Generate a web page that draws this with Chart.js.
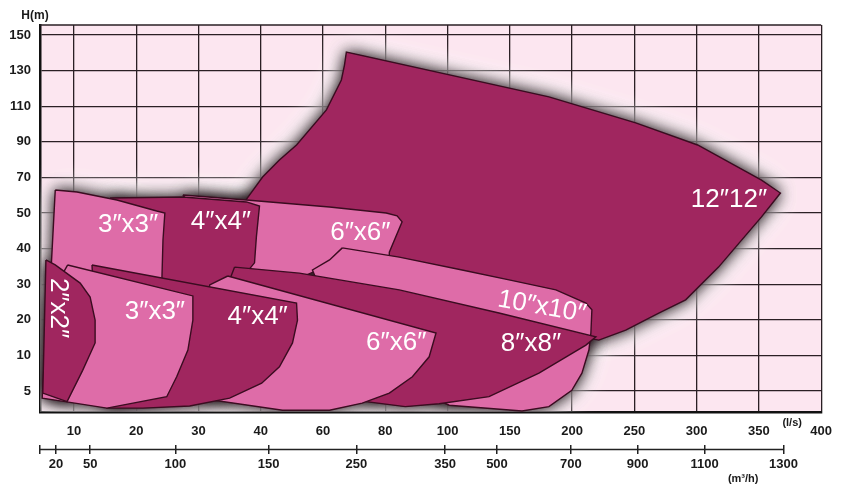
<!DOCTYPE html>
<html>
<head>
<meta charset="utf-8">
<script src="https://cdn.jsdelivr.net/npm/chart.js@4.4.1/dist/chart.umd.min.js"></script>
<style>
  html, body { margin: 0; padding: 0; background: #fff; }
</style>
</head>
<body>
<canvas id="chart" width="844" height="485"></canvas>
<script>
// axis ticks: every tick sits one grid step from the next, so the scales are piecewise
const flowTicks = [10, 20, 30, 40, 60, 80, 100, 150, 200, 250, 300, 350, 400]; // l/s
const headTicks = [5, 10, 20, 30, 40, 50, 70, 90, 110, 130, 150];              // m
const flowRange = [4.55, 400];
const headRange = [2.05, 155.6];

// second flow axis in m3/h, with the l/s value each tick sits at
const m3hLabels = ['', '20', '50', '100', '150', '250', '350', '500', '700', '900', '1100', '1300'];
const m3hAtFlow = [4.55, 7.1, 12.6, 26.3, 42.5, 70.7, 99.2, 139.7, 199.0, 252.7, 306.4, 369.7];

// pump ranges as outlines of [flow l/s, head m], listed back to front
const size12 = [[37.4, 56.2], [40.6, 70.2], [46.0, 79.8], [51.5, 88.2], [61.1, 107.9], [65.9, 124.7],
  [66.9, 133.1], [67.5, 140.4], [181.4, 115.2], [251.1, 100.6], [300.8, 88.2], [352.1, 68.5],
  [367.3, 61.2], [352.1, 48.9], [331.3, 40.4], [317.6, 34.8], [291.2, 25.6], [269.6, 21.9],
  [243.1, 17.1], [221.5, 14.3], [189.4, 16.3], [101.3, 25.6], [68.5, 35.4], [39.8, 43.8]];
const upper6 = [[27.5, 60.1], [37.7, 57.3], [62.1, 53.4], [80.3, 50.0], [83.8, 49.2], [85.4, 47.5],
  [81.3, 39.0], [81.3, 37.4], [62.1, 35.4], [52.4, 31.7], [36.6, 31.2]];
const upper4 = [[15.8, 58.4], [27.5, 59.0], [37.7, 56.2], [39.8, 53.9], [39.3, 43.3], [39.0, 36.0],
  [37.4, 32.6], [32.1, 29.2], [15.8, 29.2]];
const upper3 = [[7.0, 62.9], [10.5, 61.8], [16.9, 57.3], [23.3, 51.1], [24.6, 50.0], [24.3, 42.4],
  [24.1, 29.8], [6.2, 29.8]];
const lower10 = [[66.2, 40.2], [84.5, 37.6], [111.7, 34.0], [149.4, 31.2], [187.0, 28.4], [211.1, 24.7],
  [215.9, 22.8], [215.1, 16.3], [213.5, 11.5], [207.9, 7.5], [199.8, 5.1], [181.4, 2.8], [159.8, 2.2],
  [101.3, 3.0], [68.5, 9.4], [56.6, 34.0], [62.1, 36.8]];
const lower8 = [[35.8, 34.8], [52.4, 33.1], [84.5, 28.4], [141.3, 21.9], [219.1, 15.2], [211.1, 12.9],
  [173.4, 7.5], [133.3, 4.2], [97.3, 3.2], [86.4, 2.8], [73.9, 3.5], [62.1, 17.1], [35.0, 31.2]];
const lower6 = [[34.7, 32.3], [96.3, 16.3], [94.1, 9.8], [88.7, 7.0], [81.3, 4.7], [72.6, 3.3],
  [62.1, 2.3], [47.0, 2.3], [30.2, 4.0], [31.8, 29.8]];
const lower4 = [[12.9, 35.4], [51.5, 24.7], [51.8, 19.9], [50.2, 13.5], [46.0, 8.4], [40.3, 6.1],
  [35.0, 4.0], [28.6, 2.9], [21.1, 2.6], [15.3, 2.6], [13.4, 17.1]];
const lower3 = [[9.0, 35.4], [29.1, 26.7], [29.1, 19.9], [28.3, 11.5], [26.5, 7.0], [24.9, 4.2],
  [15.3, 2.6], [8.6, 3.5], [4.9, 4.0], [5.8, 25.6]];
const lower2 = [[5.5, 36.8], [7.0, 35.4], [11.0, 30.3], [12.6, 26.4], [13.4, 19.9], [13.4, 13.5],
  [11.4, 7.9], [8.9, 3.5], [5.0, 4.7]];

const outlines = [size12, upper6, upper4, upper3, lower10, lower8, lower6, lower4, lower3, lower2];
const pumpNames = ['12″12″', '6″x6″', '4″x4″', '3″x3″', '10″x10″', '8″x8″', '6″x6″', '4″x4″', '3″x3″', '2″x2″'];
const pumpTone = ['dark', 'light', 'dark', 'light', 'light', 'dark', 'light', 'dark', 'light', 'dark'];
const labelAt = [[326, 57.3], [72.0, 44.4], [33.6, 47.5], [18.7, 46.6], [175.8, 23.6], [167.0, 13.2],
  [83.5, 13.5], [39.5, 20.8], [23.0, 22.2], [7.4, 23.3]];

const toneColor = { dark: '#a0265f', light: '#de6ca8' };
const labelTurn = [0, 0, 0, 0, 10, 0, 0, 0, 0, 90];

// value -> grid position along a piecewise axis
function toIndex(v, ticks) {
  let k = 0;
  while (k < ticks.length - 2 && v > ticks[k + 1]) k++;
  return k + (v - ticks[k]) / (ticks[k + 1] - ticks[k]);
}

const datasets = outlines.map((pts, i) => ({
  label: pumpNames[i],
  data: pts.concat([pts[0]]).map(([q, h]) => ({ x: toIndex(q, flowTicks), y: toIndex(h, headTicks) })),
  showLine: true,
  fill: 'shape',
  backgroundColor: toneColor[pumpTone[i]],
  borderColor: '#3a0c20',
  borderWidth: 1.4,
  pointRadius: 0,
  tension: 0,
  order: outlines.length - i
}));

const gridColor = '#2a1f24';
const tickFont = { family: '"Liberation Sans", Arial, sans-serif', size: 13, weight: 'bold' };

const plotBg = {
  id: 'plotBg',
  beforeDraw(chart) {
    const { ctx, chartArea: a } = chart;
    ctx.save();
    ctx.fillStyle = '#fce6f0';
    ctx.fillRect(a.left, a.top, a.width, a.height);
    ctx.restore();
  }
};

// soft halo + dark shadow round every shape, painted before the shapes themselves
const shapeShadow = {
  id: 'shapeShadow',
  beforeDatasetsDraw(chart) {
    const { ctx, chartArea: a } = chart;
    ctx.save();
    ctx.beginPath();
    ctx.rect(a.left, a.top, a.width, a.height);
    ctx.clip();
    const metas = chart.getSortedVisibleDatasetMetas().slice().reverse();
    const trace = meta => {
      ctx.beginPath();
      meta.data.forEach((p, k) => (k ? ctx.lineTo(p.x, p.y) : ctx.moveTo(p.x, p.y)));
      ctx.closePath();
    };
    ctx.fillStyle = '#fff';
    ctx.shadowColor = 'rgba(255, 255, 255, 1)';
    ctx.shadowBlur = 30;
    metas.forEach(m => { trace(m); ctx.fill(); ctx.fill(); });
    ctx.fillStyle = '#555';
    ctx.shadowColor = 'rgba(20, 5, 12, 0.7)';
    ctx.shadowBlur = 16;
    metas.forEach(m => { trace(m); ctx.fill(); ctx.fill(); });
    ctx.restore();
  }
};

const decorations = {
  id: 'decorations',
  afterDatasetsDraw(chart) {
    const { ctx, chartArea: a, scales } = chart;
    ctx.save();
    ctx.strokeStyle = gridColor;
    ctx.lineWidth = 1.5;
    ctx.beginPath();
    ctx.moveTo(a.left, a.top);
    ctx.lineTo(a.right, a.top);
    ctx.stroke();

    ctx.fillStyle = '#fff';
    ctx.font = '26px "Liberation Sans", Arial, sans-serif';
    ctx.textAlign = 'center';
    ctx.textBaseline = 'middle';
    pumpNames.forEach((name, i) => {
      const x = scales.x.getPixelForValue(toIndex(labelAt[i][0], flowTicks));
      const y = scales.y.getPixelForValue(toIndex(labelAt[i][1], headTicks));
      ctx.save();
      ctx.translate(x, y);
      ctx.rotate(labelTurn[i] * Math.PI / 180);
      ctx.fillText(name, 0, 0);
      ctx.restore();
    });
    ctx.restore();
  },
  afterDraw(chart) {
    const { ctx, chartArea: a, scales } = chart;
    const x2 = scales.x2;
    ctx.save();
    // base line of the m3/h axis
    const y = x2.top + 4.5;
    ctx.strokeStyle = '#222';
    ctx.lineWidth = 1.5;
    ctx.beginPath();
    ctx.moveTo(x2.getPixelForValue(x2.ticks[0].value), y);
    ctx.lineTo(x2.getPixelForValue(x2.ticks[x2.ticks.length - 1].value), y);
    ctx.stroke();

    ctx.fillStyle = '#1a1a1a';
    ctx.textAlign = 'center';
    ctx.textBaseline = 'middle';
    ctx.font = 'bold 12px "Liberation Sans", Arial, sans-serif';
    ctx.fillText('H(m)', a.left - 5, a.top - 9);
    ctx.font = 'bold 11px "Liberation Sans", Arial, sans-serif';
    ctx.fillText('(l/s)', a.right - 29, a.bottom + 11);
    ctx.fillText('(m³/h)', a.right - 78, 479);
    ctx.restore();
  }
};

new Chart(document.getElementById('chart'), {
  type: 'scatter',
  data: { datasets },
  options: {
    responsive: false,
    animation: false,
    devicePixelRatio: 1,
    layout: { padding: { top: 25, right: 21, left: 0, bottom: 0 } },
    plugins: { legend: { display: false }, tooltip: { enabled: false } },
    scales: {
      x: {
        type: 'linear',
        position: 'bottom',
        min: toIndex(flowRange[0], flowTicks),
        max: toIndex(flowRange[1], flowTicks),
        afterBuildTicks: s => { s.ticks = flowTicks.map((_, k) => ({ value: k })); },
        afterFit: s => { s.height = 33; },
        ticks: {
          autoSkip: false, maxRotation: 0, padding: 12, color: '#1a1a1a', font: tickFont,
          callback: v => flowTicks[Math.round(v)]
        },
        grid: { color: gridColor, lineWidth: 1.3, drawTicks: false },
        border: { display: true, color: '#111', width: 2.5 }
      },
      x2: {
        type: 'linear',
        axis: 'x',
        position: 'bottom',
        min: toIndex(flowRange[0], flowTicks),
        max: toIndex(flowRange[1], flowTicks),
        afterBuildTicks: s => { s.ticks = m3hAtFlow.map(q => ({ value: toIndex(q, flowTicks) })); },
        afterFit: s => { s.height = 40; },
        ticks: {
          autoSkip: false, maxRotation: 0, padding: 3, color: '#1a1a1a', font: tickFont,
          callback: (v, k) => m3hLabels[k]
        },
        grid: { display: true, drawOnChartArea: false, drawTicks: true, tickLength: 9, color: '#222', lineWidth: 1.5 },
        border: { display: false }
      },
      y: {
        type: 'linear',
        min: toIndex(headRange[0], headTicks),
        max: toIndex(headRange[1], headTicks),
        afterBuildTicks: s => { s.ticks = headTicks.map((_, k) => ({ value: k })); },
        afterFit: s => { s.width = 40; },
        ticks: { padding: 9, color: '#1a1a1a', font: tickFont, callback: v => headTicks[Math.round(v)] },
        grid: { color: gridColor, lineWidth: 1.3, drawTicks: false },
        border: { display: true, color: '#111', width: 2.5 }
      }
    }
  },
  plugins: [plotBg, shapeShadow, decorations]
});
</script>
</body>
</html>
